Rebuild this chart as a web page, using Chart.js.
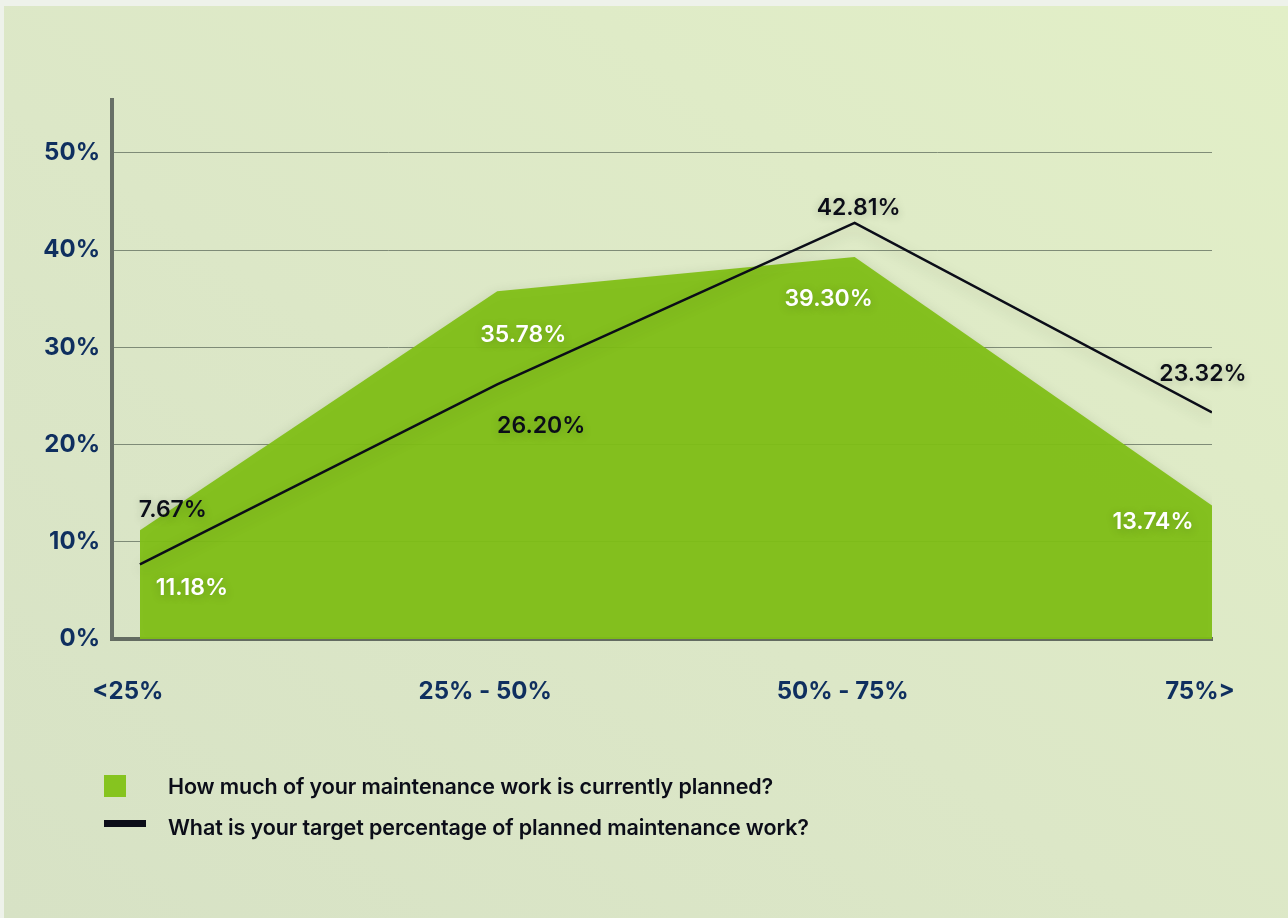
<!DOCTYPE html>
<html>
<head>
<meta charset="utf-8">
<script src="https://cdn.jsdelivr.net/npm/chart.js@4.4.1/dist/chart.umd.min.js"></script>
<style>
  html, body { margin: 0; padding: 0; }
  body {
    width: 1288px; height: 918px; overflow: hidden;
    background: #eef2ea; position: relative;
    font-family: Inter, "Noto Sans", sans-serif;
  }
  .card {
    position: absolute; left: 4px; top: 6px; right: 0; bottom: 0;
    background: linear-gradient(to top right, #d7e2c5 0%, #dce7c7 45%, #e2efc7 100%);
  }
  .wrap { position: absolute; left: 0; top: 0; width: 1288px; height: 918px; }
  .legend { position: absolute; left: 0; top: 0; }
  .legend .row { position: absolute; white-space: nowrap; font-weight: 600; font-size: 21.5px; color: #0b0d18; letter-spacing: -0.1px; }
  .legend .sw { position: absolute; }
</style>
</head>
<body>
<div class="card"></div>
<div class="wrap"><canvas id="plannedChart"></canvas></div>
<div class="legend">
  <div class="sw" style="left:104px;top:775px;width:22px;height:22px;background:#86c41f;"></div>
  <div class="row" style="left:168px;top:773px;">How much of your maintenance work is currently planned?</div>
  <div class="sw" style="left:104px;top:820px;width:42px;height:7px;background:#0b0d18;"></div>
  <div class="row" style="left:168px;top:814px;">What is your target percentage of planned maintenance work?</div>
</div>
<script>
const categories = ['<25%', '25% - 50%', '50% - 75%', '75%>'];
const currentPlanned = [11.18, 35.78, 39.30, 13.74];
const targetPlanned = [7.67, 26.20, 42.81, 23.32];
const yTicks = [0, 10, 20, 30, 40, 50];

// where each value label sits relative to its point (px)
const currentLabelShift = [[52, 58], [26, 44], [-26, 42], [-59, 17]];
const targetLabelShift = [[33, -54], [44, 42], [4, -15], [-9, -38]];

const NAVY = '#0f2f5f';

const softShadow = {
  id: 'softShadow',
  beforeDatasetsDraw(chart) {
    const ctx = chart.ctx;
    ctx.save();
    ctx.shadowColor = 'rgba(40, 60, 20, 0.22)';
    ctx.shadowBlur = 14;
    ctx.shadowOffsetY = 5;
  },
  afterDatasetsDraw(chart) {
    chart.ctx.restore();
  }
};

const valueLabels = {
  id: 'valueLabels',
  afterDatasetsDraw(chart) {
    const ctx = chart.ctx;
    const shifts = [currentLabelShift, targetLabelShift];
    const colors = ['#ffffff', '#0b0d18'];
    ctx.save();
    ctx.font = '600 23px Inter, sans-serif';
    ctx.textAlign = 'center';
    ctx.textBaseline = 'middle';
    ctx.shadowColor = 'rgba(30, 50, 20, 0.25)';
    ctx.shadowBlur = 8;
    ctx.shadowOffsetY = 2;
    chart.data.datasets.forEach((ds, di) => {
      chart.getDatasetMeta(di).data.forEach((pt, i) => {
        const [dx, dy] = shifts[di][i];
        ctx.fillStyle = colors[di];
        ctx.fillText(ds.data[i].y.toFixed(2) + '%', pt.x + dx, pt.y + dy);
      });
    });
    ctx.restore();
  }
};

const ctx = document.getElementById('plannedChart').getContext('2d');
new Chart(ctx, {
  type: 'line',
  data: {
    datasets: [
      {
        label: 'How much of your maintenance work is currently planned?',
        data: currentPlanned.map((v, i) => ({ x: i, y: v })),
        backgroundColor: 'rgba(128, 191, 22, 0.95)',
        borderWidth: 0,
        pointRadius: 0,
        fill: 'origin',
        tension: 0,
        order: 2
      },
      {
        label: 'What is your target percentage of planned maintenance work?',
        data: targetPlanned.map((v, i) => ({ x: i, y: v })),
        borderColor: '#0b0d18',
        borderWidth: 2.5,
        pointRadius: 0,
        fill: false,
        tension: 0,
        order: 1
      }
    ]
  },
  options: {
    responsive: true,
    maintainAspectRatio: false,
    animation: false,
    layout: { padding: { top: 100, right: 76, left: 0, bottom: 0 } },
    plugins: {
      legend: { display: false },
      tooltip: { enabled: false }
    },
    scales: {
      x: {
        type: 'linear',
        min: -0.078,
        max: 3,
        afterFit(scale) { scale.height = 279; },
        afterBuildTicks(scale) {
          scale.ticks = categories.map((c, i) => ({ value: i }));
        },
        grid: { display: false },
        border: { display: true, color: '#636b61', width: 4 },
        ticks: {
          callback: (v) => categories[v],
          padding: 30,
          labelOffset: -12,
          maxRotation: 0,
          color: NAVY,
          font: { family: 'Inter', size: 24, weight: '700' }
        }
      },
      y: {
        min: 0,
        max: 55.45,
        afterFit(scale) { scale.width = 112; },
        afterBuildTicks(scale) {
          scale.ticks = yTicks.map(v => ({ value: v }));
        },
        grid: { color: 'rgba(95, 108, 92, 0.75)', lineWidth: 1, drawTicks: false },
        border: { display: true, color: '#687067', width: 4 },
        ticks: {
          padding: 12,
          callback: (v) => v + '%',
          color: NAVY,
          font: { family: 'Inter', size: 24, weight: '700' }
        }
      }
    }
  },
  plugins: [softShadow, valueLabels]
});
</script>
</body>
</html>
